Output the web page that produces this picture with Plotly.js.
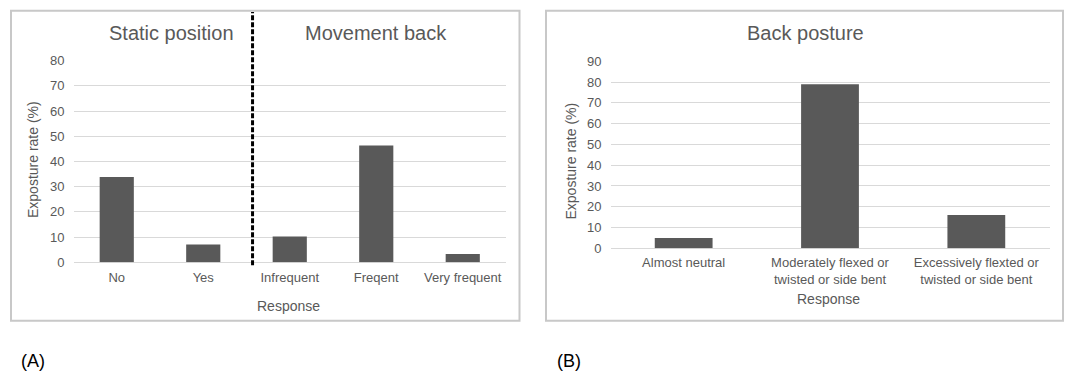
<!DOCTYPE html>
<html>
<head>
<meta charset="utf-8">
<script src="https://cdn.plot.ly/plotly-3.0.1.min.js"></script>
<style>
  html, body { margin: 0; padding: 0; background: #fff; }
  #chart { width: 1075px; height: 388px; }
</style>
</head>
<body>
<div id="chart"></div>
<script>
// ---- data ----
const responsesA = ['No', 'Yes', 'Infrequent', 'Freqent', 'Very frequent'];
const ratesA = [33.8, 7.1, 10.2, 46.3, 3.3];
const groupTitlesA = ['Static position', 'Movement back'];

const responsesB = ['Almost neutral', 'Moderately flexed or<br>twisted or side bent', 'Excessively flexted or<br>twisted or side bent'];
const ratesB = [5, 79, 16];
const titleB = 'Back posture';

const yTitle = 'Exposture rate (%)';
const xTitle = 'Response';
const panelLabels = ['(A)', '(B)'];

// ---- helpers ----
const W = 1075, H = 388;
const px = v => v / W;
const py = v => (H - v) / H;
const FONT = '"Liberation Sans", Arial, sans-serif';
const GREY = '#595959';

const barStyle = { color: '#595959' };

const traces = [
  { type: 'bar', x: responsesA, y: ratesA, xaxis: 'x', yaxis: 'y', marker: barStyle, hoverinfo: 'x+y' },
  { type: 'bar', x: responsesB, y: ratesB, xaxis: 'x2', yaxis: 'y2', marker: barStyle, hoverinfo: 'y' }
];

const xCommon = {
  type: 'category', showgrid: false, showline: false, zeroline: false, ticks: '',
  ticklabelstandoff: 6,
  tickfont: { family: FONT, size: 13, color: GREY }, fixedrange: true
};
const yCommon = {
  dtick: 10, showgrid: true, gridcolor: '#d9d9d9', gridwidth: 1,
  zeroline: true, zerolinecolor: '#d9d9d9', zerolinewidth: 1,
  showline: false, ticks: '', ticklabelstandoff: 8,
  tickfont: { family: FONT, size: 13, color: GREY }, fixedrange: true
};

const ann = (text, x, y, size, extra) => Object.assign({
  text: text, x: x, y: y, xref: 'paper', yref: 'paper', showarrow: false,
  xanchor: 'center', yanchor: 'middle', font: { family: FONT, size: size, color: GREY }
}, extra || {});

const dividerPos = responsesA.indexOf('Yes') + 0.57;
const labelFont = { family: '"Liberation Sans Narrow", "Liberation Sans", Arial, sans-serif', size: 18, color: '#000' };

const layout = {
  width: W, height: H,
  margin: { l: 0, r: 0, t: 0, b: 0 },
  paper_bgcolor: '#ffffff', plot_bgcolor: 'rgba(0,0,0,0)',
  showlegend: false,
  bargap: 0.605,
  xaxis: Object.assign({}, xCommon, { domain: [px(73.5), px(506)], anchor: 'y' }),
  yaxis: Object.assign({}, yCommon, { domain: [py(262.3), py(60.7)], range: [0, 80], anchor: 'x' }),
  xaxis2: Object.assign({}, xCommon, { domain: [px(610.5), px(1049.5)], anchor: 'y2', ticklabelstandoff: 5 }),
  yaxis2: Object.assign({}, yCommon, { domain: [py(248.3), py(61.3)], range: [0, 90], anchor: 'x2' }),
  shapes: [
    { type: 'rect', xref: 'paper', yref: 'paper', x0: px(11), x1: px(519.5), y0: py(320.7), y1: py(10.7),
      line: { color: '#c8c8c8', width: 2 }, fillcolor: 'rgba(0,0,0,0)', layer: 'below' },
    { type: 'rect', xref: 'paper', yref: 'paper', x0: px(546), x1: px(1063), y0: py(320.7), y1: py(10.7),
      line: { color: '#c8c8c8', width: 2 }, fillcolor: 'rgba(0,0,0,0)', layer: 'below' },
    { type: 'line', xref: 'x', yref: 'paper', x0: dividerPos, x1: dividerPos, y0: py(265.3), y1: py(12),
      line: { color: '#000000', width: 3, dash: '5px,2px' } }
  ],
  annotations: [
    ann(groupTitlesA[0], px(171), py(33.3), 20),
    ann(groupTitlesA[1], px(375.5), py(33.3), 20),
    ann(titleB, px(805), py(33.3), 20),
    ann(yTitle, px(33), py(160), 14, { textangle: -90 }),
    ann(yTitle, px(570), py(161.5), 14, { textangle: -90 }),
    ann(xTitle, px(288), py(306), 14),
    ann(xTitle, px(828), py(299), 14),
    ann(panelLabels[0], px(33), py(361), 18, { font: labelFont }),
    ann(panelLabels[1], px(569), py(361), 18, { font: labelFont })
  ]
};

Plotly.newPlot('chart', traces, layout, { displayModeBar: false, staticPlot: true });
</script>
</body>
</html>
